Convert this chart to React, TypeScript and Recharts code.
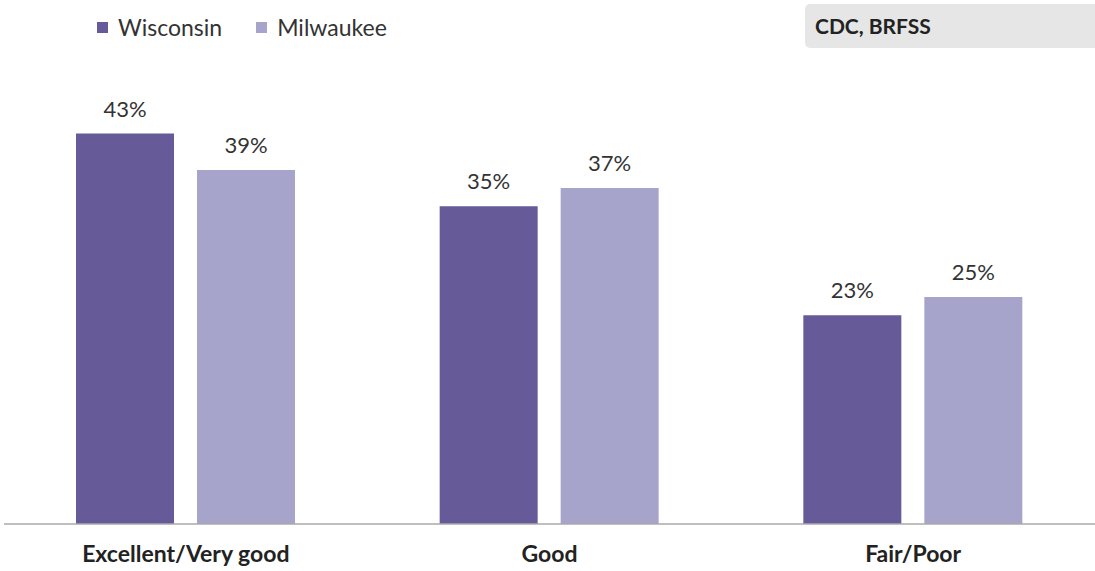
import React from 'react';
import { BarChart, Bar, XAxis, YAxis, LabelList } from 'recharts';

const categories = ['Excellent/Very good', 'Good', 'Fair/Poor'];
const wisconsin = [43, 35, 23];
const milwaukee = [39, 37, 25];

const data = categories.map((name, i) => ({
    name,
    Wisconsin: wisconsin[i],
    Milwaukee: milwaukee[i],
}));

const COLORS = { Wisconsin: '#675a98', Milwaukee: '#a7a4cc' };
const FONT = 'Lato, sans-serif';

const App: React.FC = () => {
    return (
        <div style={{ position: 'absolute', left: 0, top: 0, width: 1095, height: 571, background: '#fff' }}>
            {/* legend */}
            <div
                style={{
                    position: 'absolute',
                    left: 97,
                    top: 12,
                    display: 'flex',
                    fontFamily: FONT,
                    fontSize: 23,
                    color: '#333',
                    lineHeight: '30px',
                }}
            >
                {(['Wisconsin', 'Milwaukee'] as const).map((k) => (
                    <div key={k} style={{ display: 'flex', alignItems: 'center', marginRight: 34 }}>
                        <span
                            style={{
                                width: 11,
                                height: 11,
                                background: COLORS[k],
                                display: 'inline-block',
                                marginRight: 10,
                            }}
                        />
                        <span>{k}</span>
                    </div>
                ))}
            </div>
            {/* source box */}
            <div
                style={{
                    position: 'absolute',
                    left: 805,
                    top: 4,
                    width: 300,
                    height: 44,
                    background: '#e6e6e6',
                    borderRadius: 5,
                    fontFamily: FONT,
                    fontWeight: 700,
                    fontSize: 21,
                    color: '#222',
                    lineHeight: '44px',
                    paddingLeft: 10,
                    boxSizing: 'border-box',
                }}
            >
                CDC, BRFSS
            </div>
            <BarChart
                width={1095}
                height={571}
                data={data}
                margin={{ top: 70, right: 0, bottom: 0, left: 4 }}
                barGap={23}
                barSize={98}
            >
                <XAxis
                    dataKey="name"
                    height={47}
                    tickLine={false}
                    axisLine={{ stroke: '#aaa', strokeWidth: 1.5 }}
                    tick={{ fill: '#222', fontSize: 23, fontWeight: 700, fontFamily: FONT }}
                    tickMargin={16}
                />
                <YAxis hide domain={[0, 50]} />
                {(['Wisconsin', 'Milwaukee'] as const).map((k) => (
                    <Bar key={k} dataKey={k} fill={COLORS[k]} isAnimationActive={false}>
                        <LabelList
                            dataKey={k}
                            position="top"
                            offset={17}
                            formatter={(v: number) => `${v}%`}
                            style={{ fill: '#333', fontSize: 22, fontFamily: FONT }}
                        />
                    </Bar>
                ))}
            </BarChart>
        </div>
    );
};

export default App;
